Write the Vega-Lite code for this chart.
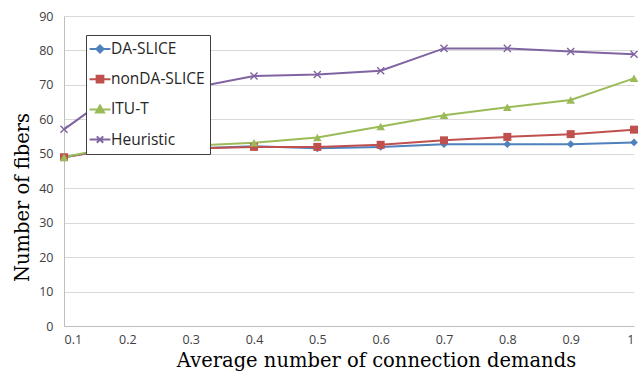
{
  "$schema": "https://vega.github.io/schema/vega-lite/v6.json",
  "width": 570,
  "height": 310,
  "autosize": "none",
  "padding": {"left": 64, "top": 16, "right": 5, "bottom": 54},
  "background": "white",
  "config": {
    "view": {"stroke": null},
    "axis": {
      "labelFont": "Open Sans",
      "labelFontSize": 12.5,
      "labelColor": "#404040",
      "titleFont": "DejaVu Serif",
      "titleFontSize": 19.5,
      "titleFontWeight": "normal",
      "titleColor": "#000000",
      "ticks": false,
      "domainColor": "#BFBFBF",
      "domainWidth": 1,
      "gridColor": "#D9D9D9",
      "gridWidth": 1
    },
    "legend": {
      "orient": "none",
      "legendX": 22,
      "legendY": 19,
      "padding": 5,
      "fillColor": "white",
      "strokeColor": "#3F3F3F",
      "cornerRadius": 0,
      "symbolSize": 256,
      "symbolStrokeWidth": 2,
      "rowPadding": 12.2,
      "labelOffset": 2,
      "labelFont": "Open Sans",
      "labelFontSize": 15.5,
      "labelColor": "#262626"
    }
  },
  "data": {
    "values": [
      {"demand": 0.1, "series": "DA-SLICE", "fibers": 49.0},
      {"demand": 0.2, "series": "DA-SLICE", "fibers": 52.0},
      {"demand": 0.3, "series": "DA-SLICE", "fibers": 51.5},
      {"demand": 0.4, "series": "DA-SLICE", "fibers": 52.2},
      {"demand": 0.5, "series": "DA-SLICE", "fibers": 51.6},
      {"demand": 0.6, "series": "DA-SLICE", "fibers": 52.0},
      {"demand": 0.7, "series": "DA-SLICE", "fibers": 52.8},
      {"demand": 0.8, "series": "DA-SLICE", "fibers": 52.8},
      {"demand": 0.9, "series": "DA-SLICE", "fibers": 52.8},
      {"demand": 1.0, "series": "DA-SLICE", "fibers": 53.3},
      {"demand": 0.1, "series": "nonDA-SLICE", "fibers": 49.0},
      {"demand": 0.2, "series": "nonDA-SLICE", "fibers": 52.2},
      {"demand": 0.3, "series": "nonDA-SLICE", "fibers": 51.5},
      {"demand": 0.4, "series": "nonDA-SLICE", "fibers": 52.0},
      {"demand": 0.5, "series": "nonDA-SLICE", "fibers": 52.0},
      {"demand": 0.6, "series": "nonDA-SLICE", "fibers": 52.6},
      {"demand": 0.7, "series": "nonDA-SLICE", "fibers": 53.9},
      {"demand": 0.8, "series": "nonDA-SLICE", "fibers": 54.9},
      {"demand": 0.9, "series": "nonDA-SLICE", "fibers": 55.7},
      {"demand": 1.0, "series": "nonDA-SLICE", "fibers": 57.0},
      {"demand": 0.1, "series": "ITU-T", "fibers": 49.0},
      {"demand": 0.2, "series": "ITU-T", "fibers": 52.8},
      {"demand": 0.3, "series": "ITU-T", "fibers": 52.3},
      {"demand": 0.4, "series": "ITU-T", "fibers": 53.2},
      {"demand": 0.5, "series": "ITU-T", "fibers": 54.7},
      {"demand": 0.6, "series": "ITU-T", "fibers": 57.9},
      {"demand": 0.7, "series": "ITU-T", "fibers": 61.2},
      {"demand": 0.8, "series": "ITU-T", "fibers": 63.5},
      {"demand": 0.9, "series": "ITU-T", "fibers": 65.6},
      {"demand": 1.0, "series": "ITU-T", "fibers": 71.9},
      {"demand": 0.1, "series": "Heuristic", "fibers": 57.1},
      {"demand": 0.2, "series": "Heuristic", "fibers": 70.3},
      {"demand": 0.3, "series": "Heuristic", "fibers": 69.0},
      {"demand": 0.4, "series": "Heuristic", "fibers": 72.6},
      {"demand": 0.5, "series": "Heuristic", "fibers": 73.0},
      {"demand": 0.6, "series": "Heuristic", "fibers": 74.1},
      {"demand": 0.7, "series": "Heuristic", "fibers": 80.6},
      {"demand": 0.8, "series": "Heuristic", "fibers": 80.6},
      {"demand": 0.9, "series": "Heuristic", "fibers": 79.7},
      {"demand": 1.0, "series": "Heuristic", "fibers": 78.9}
    ]
  },
  "encoding": {
    "x": {
      "field": "demand",
      "type": "quantitative",
      "scale": {"domain": [0.1, 1], "nice": false, "zero": false},
      "axis": {
        "title": "Average number of connection demands",
        "values": [0.1, 0.2, 0.3, 0.4, 0.5, 0.6, 0.7, 0.8, 0.9, 1],
        "format": "~g",
        "grid": false,
        "labelPadding": 7,
        "titleX": 312,
        "titleY": 40,
        "titleAlign": "center",
        "titleBaseline": "alphabetic"
      }
    },
    "y": {
      "field": "fibers",
      "type": "quantitative",
      "scale": {"domain": [0, 90], "nice": false},
      "axis": {
        "title": "Number of fibers",
        "values": [0, 10, 20, 30, 40, 50, 60, 70, 80, 90],
        "grid": true,
        "labelPadding": 11,
        "titleX": -36,
        "titleY": 181,
        "titleAngle": 270,
        "titleAlign": "center",
        "titleBaseline": "alphabetic"
      }
    },
    "color": {
      "field": "series",
      "type": "nominal",
      "scale": {
        "domain": ["DA-SLICE", "nonDA-SLICE", "ITU-T", "Heuristic"],
        "range": ["#4F81BD", "#C0504D", "#9BBB59", "#8064A2"]
      },
      "legend": {
        "title": null,
        "encode": {
          "symbols": {
            "update": {
              "shape": {"signal": "datum.value === 'DA-SLICE' ? 'M-1.3,0H1.3M0,-0.45L0.45,0L0,0.45L-0.45,0Z' : datum.value === 'nonDA-SLICE' ? 'M-1.3,0H1.3M-0.42,-0.42H0.42V0.42H-0.42Z' : datum.value === 'ITU-T' ? 'M-1.3,0H1.3M0,-0.5L0.5,0.38H-0.5Z' : 'M-1.3,0H1.3M-0.4,-0.4L0.4,0.4M-0.4,0.4L0.4,-0.4'"},
              "fill": {"signal": "scale('color', datum.value)"},
              "stroke": {"signal": "scale('color', datum.value)"}
            }
          }
        }
      }
    }
  },
  "layer": [
    {
      "mark": {"type": "line", "strokeWidth": 2}
    },
    {
      "transform": [{"filter": {"field": "series", "equal": "DA-SLICE"}}],
      "mark": {"type": "point", "shape": "diamond", "filled": true, "size": 60, "opacity": 1}
    },
    {
      "transform": [{"filter": {"field": "series", "equal": "nonDA-SLICE"}}],
      "mark": {"type": "point", "shape": "square", "filled": true, "size": 64, "opacity": 1}
    },
    {
      "transform": [{"filter": {"field": "series", "equal": "ITU-T"}}],
      "mark": {"type": "point", "shape": "triangle-up", "filled": true, "size": 75, "opacity": 1}
    },
    {
      "transform": [{"filter": {"field": "series", "equal": "Heuristic"}}],
      "mark": {"type": "point", "shape": "M-1,-1L1,1M-1,1L1,-1", "filled": false, "size": 50, "strokeWidth": 1.4, "opacity": 1}
    }
  ]
}
